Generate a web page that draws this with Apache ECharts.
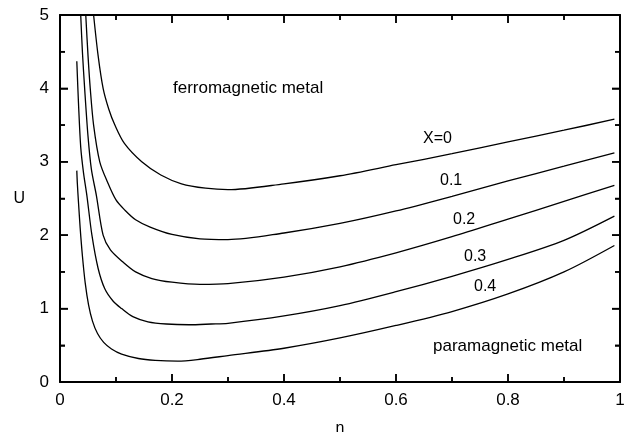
<!DOCTYPE html>
<html>
<head>
<meta charset="utf-8">
<script src="https://cdn.jsdelivr.net/npm/echarts@6/dist/echarts.min.js"></script>
<style>
  html, body { margin: 0; padding: 0; background: #fff; }
  #chart { width: 636px; height: 432px; }
</style>
</head>
<body>
<div id="chart"></div>
<script>
// U(n) phase boundaries for several X values
var nX0 = [0.060, 0.068, 0.077, 0.087, 0.098, 0.115, 0.146, 0.180, 0.217, 0.26, 0.30, 0.40, 0.50, 0.60, 0.70, 0.80, 0.90, 0.99];
var uX0 = [5.0, 4.45, 4.0, 3.72, 3.5, 3.25, 3.0, 2.82, 2.70, 2.64, 2.62, 2.70, 2.81, 2.96, 3.11, 3.27, 3.43, 3.58];

var nX1 = [0.046, 0.050, 0.054, 0.060, 0.071, 0.085, 0.100, 0.116, 0.135, 0.161, 0.20, 0.25, 0.30, 0.40, 0.50, 0.60, 0.70, 0.80, 0.90, 0.99];
var uX1 = [5.0, 4.45, 4.0, 3.5, 3.0, 2.72, 2.48, 2.34, 2.21, 2.11, 2.01, 1.95, 1.94, 2.03, 2.16, 2.33, 2.53, 2.74, 2.94, 3.12];

var nX2 = [0.037, 0.040, 0.044, 0.050, 0.056, 0.065, 0.077, 0.090, 0.113, 0.135, 0.164, 0.20, 0.25, 0.30, 0.40, 0.50, 0.60, 0.70, 0.80, 0.90, 0.99];
var uX2 = [5.0, 4.5, 4.0, 3.35, 2.9, 2.54, 2.0, 1.80, 1.63, 1.50, 1.41, 1.36, 1.33, 1.34, 1.43, 1.57, 1.76, 1.98, 2.22, 2.46, 2.68];

var nX3 = [0.030, 0.033, 0.037, 0.042, 0.048, 0.057, 0.068, 0.080, 0.095, 0.11, 0.13, 0.157, 0.19, 0.23, 0.27, 0.30, 0.40, 0.50, 0.60, 0.70, 0.80, 0.90, 0.99];
var uX3 = [4.37, 3.8, 3.2, 2.85, 2.54, 2.0, 1.55, 1.27, 1.10, 1.0, 0.89, 0.82, 0.79, 0.78, 0.79, 0.80, 0.90, 1.04, 1.23, 1.44, 1.67, 1.93, 2.26];

var nX4 = [0.030, 0.031, 0.033, 0.036, 0.040, 0.045, 0.051, 0.058, 0.067, 0.078, 0.092, 0.11, 0.14, 0.17, 0.21, 0.25, 0.30, 0.40, 0.50, 0.60, 0.70, 0.80, 0.90, 0.99];
var uX4 = [2.88, 2.7, 2.45, 2.1, 1.72, 1.35, 1.05, 0.83, 0.66, 0.54, 0.45, 0.38, 0.32, 0.295, 0.285, 0.31, 0.36, 0.46, 0.60, 0.77, 0.96, 1.20, 1.50, 1.86];

var curveN = [nX0, nX1, nX2, nX3, nX4];
var curveU = [uX0, uX1, uX2, uX3, uX4];
var curveNames = ["X=0", "0.1", "0.2", "0.3", "0.4"];

// tick positions (major + minor), drawn on all four sides of the frame
var xTicks = [0.1, 0.2, 0.3, 0.4, 0.5, 0.6, 0.7, 0.8, 0.9];
var yTicks = [0.5, 1, 1.5, 2, 2.5, 3, 3.5, 4, 4.5];

var FONT = "Liberation Sans, Arial, Helvetica, sans-serif";
var X_MIN = 0, X_MAX = 1, Y_MIN = 0, Y_MAX = 5;

function pairs(xs, ys) {
  return xs.map(function (x, i) { return [x, ys[i]]; });
}

function isMajor(v, step) {
  var r = v / step;
  return Math.abs(r - Math.round(r)) < 1e-6;
}

function tickLine(x1, y1, x2, y2) {
  return {
    type: "line",
    shape: { x1: x1, y1: y1, x2: x2, y2: y2 },
    style: { stroke: "#000", lineWidth: 1.5 }
  };
}

function renderXTick(params, api) {
  var v = api.value(0);
  var len = isMajor(v, 0.2) ? 8 : 5;
  var b = api.coord([v, Y_MIN]);
  var t = api.coord([v, Y_MAX]);
  return {
    type: "group",
    children: [tickLine(b[0], b[1], b[0], b[1] - len), tickLine(t[0], t[1], t[0], t[1] + len)]
  };
}

function renderYTick(params, api) {
  var v = api.value(1);
  var len = isMajor(v, 1) ? 8 : 5;
  var l = api.coord([X_MIN, v]);
  var r = api.coord([X_MAX, v]);
  return {
    type: "group",
    children: [tickLine(l[0], l[1], l[0] + len, l[1]), tickLine(r[0], r[1], r[0] - len, r[1])]
  };
}

function makeAxis(extra) {
  var base = {
    type: "value",
    axisLine: { show: true, onZero: false, lineStyle: { color: "#000", width: 2 } },
    axisTick: { show: true, inside: true, length: 8, lineStyle: { color: "#000", width: 1.5 } },
    minorTick: { show: true, splitNumber: 2, length: 5, lineStyle: { color: "#000", width: 1.5 } },
    splitLine: { show: false },
    axisLabel: { color: "#000", fontSize: 17, fontFamily: FONT }
  };
  for (var k in extra) base[k] = extra[k];
  return base;
}

var chart = echarts.init(document.getElementById("chart"), null, { renderer: "canvas" });

var series = curveN.map(function (ns, i) {
  return {
    name: curveNames[i],
    type: "line",
    xAxisIndex: 0,
    yAxisIndex: 0,
    data: pairs(ns, curveU[i]),
    smooth: 0.3,
    showSymbol: false,
    symbol: "none",
    lineStyle: { color: "#000", width: 1.3 },
    animation: false
  };
});

series.push({
  type: "custom",
  name: "xTicks",
  renderItem: renderXTick,
  data: xTicks.map(function (v) { return [v, Y_MIN]; }),
  clip: false,
  silent: true,
  z: 3
});
series.push({
  type: "custom",
  name: "yTicks",
  renderItem: renderYTick,
  data: yTicks.map(function (v) { return [X_MIN, v]; }),
  clip: false,
  silent: true,
  z: 3
});

var option = {
  animation: false,
  grid: { left: 60, right: 16, top: 15, bottom: 50, containLabel: false, outerBoundsMode: "none" },
  xAxis: [
    makeAxis({
      position: "bottom", min: X_MIN, max: X_MAX, interval: 0.2,
      name: "n", nameLocation: "middle", nameGap: 39,
      nameTextStyle: { color: "#000", fontSize: 16, fontFamily: FONT },
      axisLabel: { color: "#000", fontSize: 17, fontFamily: FONT, margin: 10 }
    }),
    makeAxis({
      position: "top", min: X_MIN, max: X_MAX, interval: 0.2,
      axisLabel: { show: false }
    })
  ],
  yAxis: [
    makeAxis({
      position: "left", min: Y_MIN, max: Y_MAX, interval: 1,
      name: "U", nameLocation: "middle", nameGap: 35, nameRotate: 0,
      nameTextStyle: { color: "#000", fontSize: 16, fontFamily: FONT },
      axisLabel: { color: "#000", fontSize: 17, fontFamily: FONT, margin: 11 }
    }),
    makeAxis({
      position: "right", min: Y_MIN, max: Y_MAX, interval: 1,
      axisLabel: { show: false }
    })
  ],
  graphic: [
    { type: "text", x: 173, y: 88, style: { text: "ferromagnetic metal", font: "17px " + FONT, fill: "#000", verticalAlign: "middle" } },
    { type: "text", x: 423, y: 139, style: { text: "X=0", font: "16px " + FONT, fill: "#000", verticalAlign: "middle" } },
    { type: "text", x: 440, y: 181, style: { text: "0.1", font: "16px " + FONT, fill: "#000", verticalAlign: "middle" } },
    { type: "text", x: 453, y: 220, style: { text: "0.2", font: "16px " + FONT, fill: "#000", verticalAlign: "middle" } },
    { type: "text", x: 464, y: 257, style: { text: "0.3", font: "16px " + FONT, fill: "#000", verticalAlign: "middle" } },
    { type: "text", x: 474, y: 287, style: { text: "0.4", font: "16px " + FONT, fill: "#000", verticalAlign: "middle" } },
    { type: "text", x: 433, y: 346, style: { text: "paramagnetic metal", font: "17px " + FONT, fill: "#000", verticalAlign: "middle" } }
  ],
  series: series
};

chart.setOption(option);
</script>
</body>
</html>
